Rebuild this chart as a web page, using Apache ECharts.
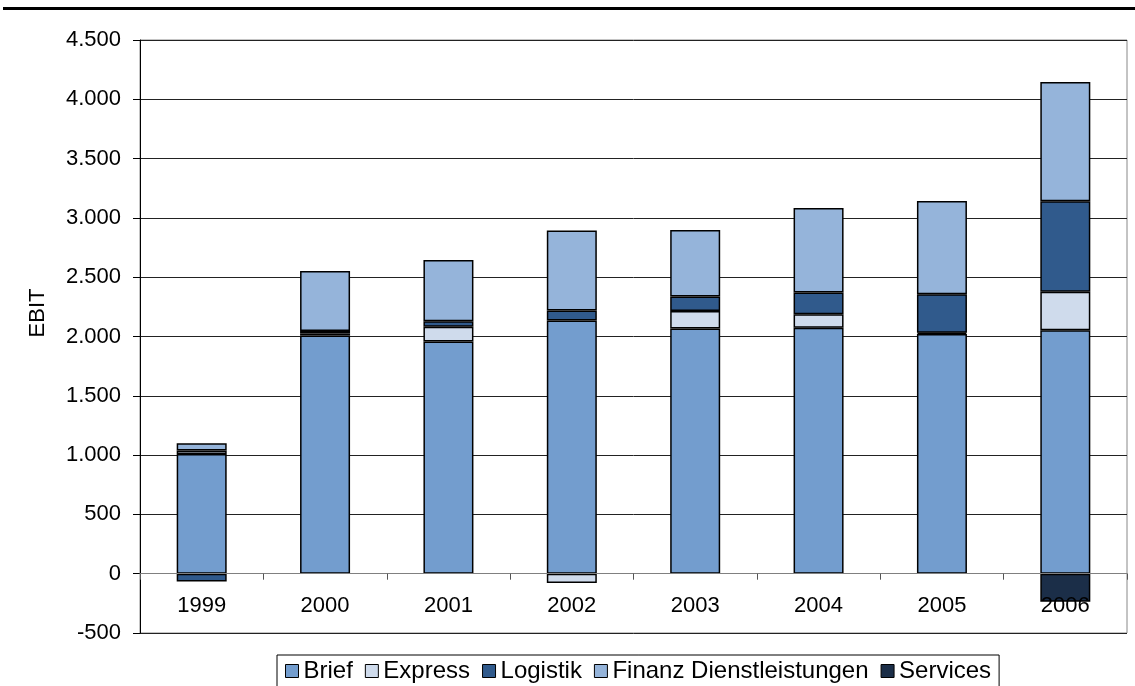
<!DOCTYPE html>
<html>
<head>
<meta charset="utf-8">
<script src="https://cdn.jsdelivr.net/npm/echarts@6/dist/echarts.min.js"></script>
<style>
html,body{margin:0;padding:0;background:#fff;}
#chart{width:1135px;height:686px;}
</style>
</head>
<body>
<div id="chart"></div>
<script>
const categories = ['1999','2000','2001','2002','2003','2004','2005','2006'];
const brief    = [1010, 2008, 1957, 2135, 2067, 2073, 2022, 2053];
const express  = [28, 18, 126, -78, 149, 115, 10, 325];
const logistik = [-65, 20, 45, 85, 121, 182, 325, 762];
const finanz   = [62, 507, 517, 673, 562, 714, 786, 1005];
const services = [null, null, null, null, null, null, null, -236];
const seriesNames = ['Brief','Express','Logistik','Finanz Dienstleistungen','Services'];
const yAxisTitle = 'EBIT';

const colors = ['#739DCE','#CFDBEC','#305A8C','#95B4DA','#1B2E48'];
const FONT = 'Liberation Sans, Arial, sans-serif';

const chart = echarts.init(document.getElementById('chart'), null, {renderer:'canvas'});
const dataSets = [brief, express, logistik, finanz, services];

chart.setOption({
  animation: false,
  backgroundColor: '#fff',
  color: colors,
  grid: {left: 140, right: 8, top: 40, bottom: 53, show: true, borderColor: '#888', borderWidth: 1},
  graphic: [
    {type:'line', shape:{x1:3, y1:8.5, x2:1135, y2:8.5}, style:{stroke:'#000', lineWidth:3}},
    {type:'text', x:38, y:313, rotation:Math.PI/2,
     style:{text:yAxisTitle, align:'center', verticalAlign:'middle', font:'22px ' + FONT, fill:'#000'}}
  ],
  legend: {
    data: seriesNames,
    left: 277, top: 655,
    itemWidth: 13, itemHeight: 13, itemGap: 12,
    padding: [4, 8, 4, 8],
    borderColor: '#000', borderWidth: 1,
    icon: 'rect',
    itemStyle: {borderColor: '#000', borderWidth: 1},
    textStyle: {fontSize: 24, fontFamily: FONT, color: '#000'}
  },
  xAxis: {
    type: 'category',
    data: categories,
    z: 5,
    axisLine: {onZero: true, lineStyle: {color: '#808080', width: 1}},
    axisTick: {show: true, interval: 0, length: 6, inside: false, lineStyle: {color: '#555'}},
    axisLabel: {fontSize: 22, fontFamily: FONT, color: '#000', margin: -38}
  },
  yAxis: {
    type: 'value',
    min: -500, max: 4500, interval: 500,
    axisLine: {show: true, lineStyle: {color: '#000', width: 1}},
    axisTick: {show: true, length: 7, lineStyle: {color: '#000'}},
    splitLine: {lineStyle: {color: '#222', width: 1}},
    axisLabel: {
      fontSize: 22, fontFamily: FONT, color: '#000', margin: 19,
      formatter: v => {
        const s = Math.abs(v).toString().replace(/\B(?=(\d{3})+(?!\d))/g, '.');
        return (v < 0 ? '-' : '') + s;
      }
    }
  },
  series: seriesNames.map((name, i) => ({
    name: name,
    type: 'bar',
    stack: 'total',
    barWidth: 50,
    data: dataSets[i],
    itemStyle: {color: colors[i], borderColor: '#000', borderWidth: 1.5}
  }))
});
</script>
</body>
</html>
